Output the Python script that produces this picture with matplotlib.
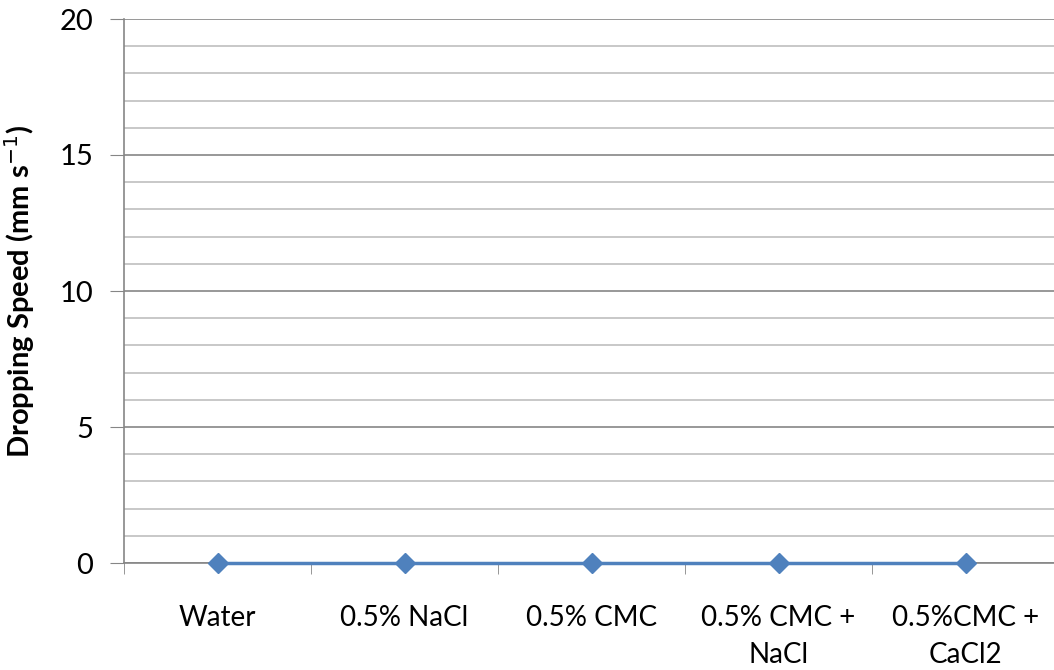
import matplotlib
matplotlib.use('Agg')
import matplotlib.pyplot as plt
import numpy as np

categories = ['Water', '0.5% NaCl', '0.5% CMC', '0.5% CMC +\nNaCl', '0.5%CMC +\nCaCl2']
speed = [0, 0, 0, 0, 0]
y_ticks = [0, 5, 10, 15, 20]

plt.rcParams['font.family'] = ['Lato', 'DejaVu Sans']

fig = plt.figure(figsize=(10.54, 6.7), dpi=100)
ax = fig.add_axes([124 / 1054, 107 / 670, 935 / 1054, 544 / 670])

x = np.arange(len(categories))
ax.plot(x, speed, '-D', color='#4F81BD', markersize=10, linewidth=2.5, zorder=5, clip_on=False)

ax.set_xlim(-0.5, len(categories) - 0.5)
ax.set_ylim(0, 20)
ax.set_yticks(y_ticks)
ax.set_yticks([v for v in range(0, 21) if v % 5], minor=True)
ax.tick_params(axis='y', which='major', labelsize=21, length=10, color='#868686', pad=12)
ax.tick_params(axis='y', which='minor', length=0)

ax.set_xticks(x)
ax.set_xticklabels(categories, fontsize=20, linespacing=1.55, va='top')
ax.set_xticks(np.arange(-0.5, len(categories)), minor=True)
ax.tick_params(axis='x', which='major', length=0, pad=30)
ax.tick_params(axis='x', which='minor', length=8, color='#868686')

ax.grid(axis='y', which='major', color='#868686', linewidth=1.2)
ax.grid(axis='y', which='minor', color='#BFBFBF', linewidth=1.2)
ax.set_axisbelow(True)

for s in ['top', 'right']:
    ax.spines[s].set_visible(False)
for s in ['left', 'bottom']:
    ax.spines[s].set_color('#868686')
    ax.spines[s].set_linewidth(1.2)

ax.set_ylabel('Dropping Speed (mm s$^{-1}$)', fontsize=21, fontweight='bold', labelpad=16)

fig.savefig('out.png', dpi=100)
